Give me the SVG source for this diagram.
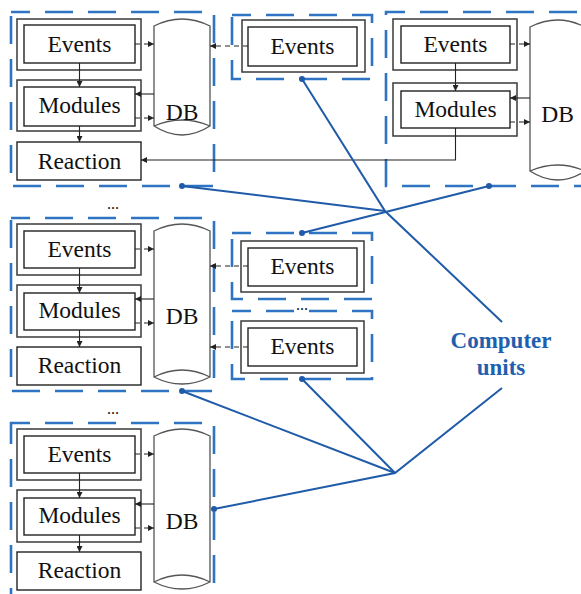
<svg xmlns="http://www.w3.org/2000/svg" width="581" height="594" viewBox="0 0 581 594">
<defs>
<style>
.unit{fill:none;stroke:#2f74c2;stroke-width:2.6;stroke-dasharray:28 15;stroke-dashoffset:9}
.ob{fill:#fff;stroke:#3a3a3a;stroke-width:1.5}
.ib{fill:#fff;stroke:#222;stroke-width:1.4}
.db{fill:#fff;stroke:#555;stroke-width:1.3}
.t{font-family:"Liberation Serif","Times New Roman",serif;font-size:23.5px;fill:#111;text-anchor:middle}
.dots{font-family:"Liberation Serif",serif;font-size:16px;fill:#111;text-anchor:middle}
.a{fill:none;stroke:#222;stroke-width:1.1;marker-end:url(#ah)}
.ad{fill:none;stroke:#222;stroke-width:1.1;stroke-dasharray:5 4;marker-end:url(#ah)}
.bl{fill:none;stroke:#1f5ba8;stroke-width:2}
.dot{fill:#1f5ba8}
.cu{font-family:"Liberation Serif","Times New Roman",serif;font-size:23px;font-weight:bold;fill:#1f5fae;text-anchor:middle}
</style>
<marker id="ah" viewBox="0 0 10 10" refX="10" refY="5" markerWidth="6" markerHeight="6" markerUnits="userSpaceOnUse" orient="auto"><path d="M0,0 L10,5 L0,10 Z" fill="#222"/></marker>
</defs>
<rect width="581" height="594" fill="#fff"/>

<g id="unitA">
<rect class="unit" x="11" y="12" width="203" height="174"/>
<rect class="ob" x="17" y="19" width="124" height="51"/>
<rect class="ib" x="24" y="25" width="111" height="38"/>
<text class="t" x="79.5" y="52">Events</text>
<rect class="ob" x="17" y="80" width="124" height="51"/>
<rect class="ib" x="24" y="87" width="111" height="39"/>
<text class="t" x="79.5" y="113">Modules</text>
<rect class="ib" x="17" y="142" width="124" height="38"/>
<text class="t" x="79.5" y="169">Reaction</text>
<path class="db" d="M154,26 Q182,12 210,26 V126 Q182,144 154,126 Z M154,126 Q182,114 210,126"/>
<text class="t" x="182" y="120">DB</text>
</g>

<g id="unitB">
<rect class="unit" x="232" y="15" width="140" height="64"/>
<rect class="ob" x="242" y="20" width="123" height="52"/>
<rect class="ib" x="248" y="27" width="109" height="39"/>
<text class="t" x="302.5" y="54">Events</text>
</g>

<g id="unitC">
<rect class="unit" x="386" y="12" width="210" height="174"/>
<rect class="ob" x="393" y="19" width="124" height="51"/>
<rect class="ib" x="401" y="26" width="109" height="37"/>
<text class="t" x="455.5" y="52">Events</text>
<rect class="ob" x="393" y="83" width="124" height="53"/>
<rect class="ib" x="401" y="91" width="109" height="37"/>
<text class="t" x="455.5" y="117">Modules</text>
<path class="db" d="M530,27 Q557.5,13 585,27 V171 Q557.5,189 530,171 Z M530,171 Q557.5,159 585,171"/>
<text class="t" x="557.5" y="122">DB</text>
</g>

<g id="unitD">
<rect class="unit" x="11" y="218" width="203" height="173"/>
<rect class="ob" x="17" y="224" width="124" height="51"/>
<rect class="ib" x="24" y="231" width="111" height="37"/>
<text class="t" x="79.5" y="257">Events</text>
<rect class="ob" x="17" y="285" width="124" height="52"/>
<rect class="ib" x="24" y="293" width="111" height="37"/>
<text class="t" x="79.5" y="318">Modules</text>
<rect class="ib" x="17" y="347" width="124" height="38"/>
<text class="t" x="79.5" y="373">Reaction</text>
<path class="db" d="M154,231 Q182,217 210,231 V377 Q182,391 154,377 Z M154,377 Q182,363 210,377"/>
<text class="t" x="182" y="324">DB</text>
</g>

<g id="unitE">
<rect class="unit" x="11" y="423" width="203" height="190"/>
<rect class="ob" x="17" y="429" width="124" height="51"/>
<rect class="ib" x="24" y="436" width="111" height="37"/>
<text class="t" x="79.5" y="462">Events</text>
<rect class="ob" x="17" y="490" width="124" height="52"/>
<rect class="ib" x="24" y="498" width="111" height="37"/>
<text class="t" x="79.5" y="523">Modules</text>
<rect class="ib" x="17" y="552" width="124" height="38"/>
<text class="t" x="79.5" y="578">Reaction</text>
<path class="db" d="M154,436 Q182,422 210,436 V582 Q182,596 154,582 Z M154,582 Q182,568 210,582"/>
<text class="t" x="182" y="529">DB</text>
</g>

<g id="unitF">
<rect class="unit" x="232" y="233" width="140" height="66"/>
<rect class="ob" x="241" y="241" width="123" height="51"/>
<rect class="ib" x="248" y="248" width="109" height="38"/>
<text class="t" x="302.5" y="274">Events</text>
</g>

<g id="unitG">
<rect class="unit" x="232" y="311" width="140" height="68"/>
<rect class="ob" x="241" y="321" width="123" height="52"/>
<rect class="ib" x="248" y="328" width="109" height="38"/>
<text class="t" x="302.5" y="354">Events</text>
</g>

<g id="ellipses">
<text class="dots" x="113" y="209">...</text>
<text class="dots" x="113" y="414">...</text>
<text class="dots" x="302" y="310">...</text>
</g>

<g id="label">
<text class="cu" x="501" y="348">Computer</text>
<text class="cu" x="501" y="375">units</text>
</g>

<g id="connectors">
<!-- unit A -->
<path class="a" d="M79.5,63 V87"/>
<path class="a" d="M79.5,126 V142"/>
<path class="ad" d="M135,44 H154"/>
<path class="a" d="M154,94 H135"/>
<path class="ad" d="M135,118 H154"/>
<path class="ad" d="M248,46 H210"/>
<!-- unit C -->
<path class="a" d="M455.5,63 V91"/>
<path class="ad" d="M510,44 H530"/>
<path class="a" d="M530,98 H510"/>
<path class="ad" d="M510,122 H530"/>
<path class="a" d="M455.5,128 V160 H141"/>
<!-- unit D -->
<path class="a" d="M79.5,268 V293"/>
<path class="a" d="M79.5,330 V347"/>
<path class="ad" d="M135,249 H154"/>
<path class="a" d="M154,299 H135"/>
<path class="ad" d="M135,323 H154"/>
<path class="ad" d="M248,266 H210"/>
<path class="ad" d="M248,347 H210"/>
<!-- unit E -->
<path class="a" d="M79.5,473 V498"/>
<path class="a" d="M79.5,535 V552"/>
<path class="ad" d="M135,454 H154"/>
<path class="a" d="M154,504 H135"/>
<path class="ad" d="M135,528 H154"/>
<!-- blue links -->
<path class="bl" d="M302,79 L385,211 L502,322"/>
<path class="bl" d="M182,186 L385,211"/>
<path class="bl" d="M489,186 L302,233"/>
<path class="bl" d="M182,391 L395,473"/>
<path class="bl" d="M302,379 L395,473"/>
<path class="bl" d="M214,509 L395,473 L502,388"/>
<circle class="dot" cx="182" cy="186" r="3"/>
<circle class="dot" cx="302" cy="79" r="3"/>
<circle class="dot" cx="489" cy="186" r="3"/>
<circle class="dot" cx="302" cy="233" r="3"/>
<circle class="dot" cx="182" cy="391" r="3"/>
<circle class="dot" cx="302" cy="379" r="3"/>
<circle class="dot" cx="214" cy="509" r="3"/>
</g>
</svg>
